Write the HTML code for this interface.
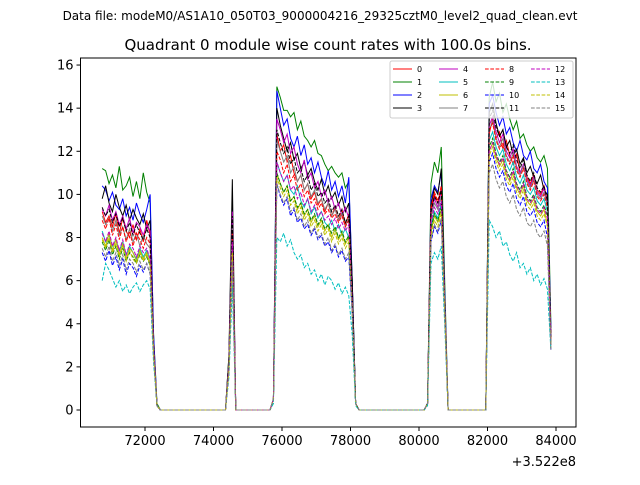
<!DOCTYPE html>
<html><head><meta charset="utf-8"><style>
body{margin:0;background:#fff;}
svg text{font-family:"DejaVu Sans","Liberation Sans",sans-serif;}
</style></head><body>
<svg id="chart" width="640" height="480" viewBox="0 0 640 480" xmlns="http://www.w3.org/2000/svg">
<rect width="640" height="480" fill="#fff"/>
<text x="320" y="20" font-size="12" text-anchor="middle">Data file: modeM0/AS1A10_050T03_9000004216_29325cztM0_level2_quad_clean.evt</text>
<text x="328" y="50" font-size="15" text-anchor="middle">Quadrant 0 module wise count rates with 100.0s bins.</text>
<g id="plot"></g>
<g id="axes"></g>
<g id="legend"></g>
</svg>
<script>
const startTime = 70750, binSize = 100;
const xTicks = [72000, 74000, 76000, 78000, 80000, 82000, 84000];
const yTicks = [0, 2, 4, 6, 8, 10, 12, 14, 16];
const offsetLabel = "+3.522e8";
const names = ["0","1","2","3","4","5","6","7","8","9","10","11","12","13","14","15"];
const colors = ["#ff0000","#008000","#0000ff","#000000","#bf00bf","#00bfbf","#bfbf00","#808080","#ff0000","#008000","#0000ff","#000000","#bf00bf","#00bfbf","#bfbf00","#808080"];
const s0=[9.2,8.7,9.0,8.5,9.1,8.2,8.9,8.3,8.0,8.6,7.9,8.4,7.8,8.8,8.1,3,0.2,0,0,0,0,0,0,0,0,0,0,0,0,0,0,0,0,0,0,0,0,2,8.5,0,0,0,0,0,0,0,0,0,0,0,0.5,12.8,12.0,12.3,11.5,11.8,11.0,10.6,10.9,10.2,10.5,9.8,10.1,9.5,9.8,9.2,9.6,9.0,9.4,8.8,9.3,8.6,9.1,5.5,0.3,0,0,0,0,0,0,0,0,0,0,0,0,0,0,0,0,0,0,0,0,0.3,9.3,10.0,9.6,10.3,5,0,0,0,0,0,0,0,0,0,0,0,0,12.8,13.5,12.6,12.9,12.1,12.5,11.8,11.4,11.9,11.0,11.3,10.8,10.5,10.9,10.2,10.0,10.4,9.7,3.5];
const s1=[11.2,11.1,10.5,10.9,10.3,11.3,10.2,10.4,10.8,9.9,10.6,9.8,11.0,10.1,9.6,3.5,0.3,0,0,0,0,0,0,0,0,0,0,0,0,0,0,0,0,0,0,0,0,2.5,8.8,0,0,0,0,0,0,0,0,0,0,0,0.5,15.0,14.5,13.9,13.9,13.6,13.8,13.0,13.4,12.7,12.5,12.2,12.5,11.9,11.8,11.4,11.1,11.3,11.0,10.8,11.0,10.3,10.6,6,0.3,0,0,0,0,0,0,0,0,0,0,0,0,0,0,0,0,0,0,0,0,0.3,10.5,11.5,11.0,12.2,6,0,0,0,0,0,0,0,0,0,0,0,0,14.5,15.2,14.3,14.7,13.8,14.2,13.5,13.0,13.4,12.6,12.8,12.3,12.0,12.2,11.7,11.5,11.8,11.2,4];
const s2=[10.4,10.2,9.7,10.1,9.5,9.3,9.8,9.0,9.4,8.8,9.6,9.1,8.7,9.3,10.0,3.5,0.2,0,0,0,0,0,0,0,0,0,0,0,0,0,0,0,0,0,0,0,0,2.3,9.5,0,0,0,0,0,0,0,0,0,0,0,0.5,14.8,14.0,13.2,13.5,12.6,12.2,12.7,11.8,12.3,11.4,11.7,11.0,11.5,10.8,10.4,11.1,10.2,10.6,9.9,10.4,9.6,10.8,6,0.3,0,0,0,0,0,0,0,0,0,0,0,0,0,0,0,0,0,0,0,0,0.3,9.8,10.4,10.1,11.0,5.5,0,0,0,0,0,0,0,0,0,0,0,0,14.2,14.6,13.8,13.2,13.6,12.8,13.1,12.4,12.0,12.5,11.8,11.6,12.0,11.2,11.0,11.4,10.6,10.3,3.8];
const s3=[9.8,10.4,9.6,9.2,10.0,9.4,9.0,9.5,8.8,9.3,8.9,8.6,9.1,8.4,8.8,3,0.2,0,0,0,0,0,0,0,0,0,0,0,0,0,0,0,0,0,0,0,0,2.5,10.7,0,0,0,0,0,0,0,0,0,0,0,0.5,14.0,13.2,12.6,12.0,12.4,11.6,11.9,11.2,11.5,10.9,11.2,10.6,10.2,10.7,10.0,10.4,9.8,10.1,9.5,9.9,9.2,9.6,6,0.3,0,0,0,0,0,0,0,0,0,0,0,0,0,0,0,0,0,0,0,0,0.3,9.5,10.3,10.0,11.2,5,0,0,0,0,0,0,0,0,0,0,0,0,13.8,14.2,13.3,12.7,13.0,12.2,12.5,11.8,12.1,11.4,11.7,11.0,11.3,10.8,10.5,10.9,10.2,10.0,3.5];
const s4=[9.3,9.0,9.5,8.8,9.2,8.6,9.0,8.4,8.9,8.2,8.7,8.5,8.1,8.6,8.3,3,0.2,0,0,0,0,0,0,0,0,0,0,0,0,0,0,0,0,0,0,0,0,2.2,9.2,0,0,0,0,0,0,0,0,0,0,0,0.5,13.5,13.0,12.4,12.8,11.9,12.2,11.4,11.0,11.6,10.7,11.0,10.3,10.6,9.9,10.2,9.6,9.9,9.3,9.6,9.0,9.4,8.9,5,0.3,0,0,0,0,0,0,0,0,0,0,0,0,0,0,0,0,0,0,0,0,0.3,9.0,9.8,9.4,10.2,5,0,0,0,0,0,0,0,0,0,0,0,0,13.2,13.6,12.9,12.4,12.8,12.0,11.7,12.1,11.3,11.0,11.4,10.7,10.4,10.8,10.1,9.9,10.3,9.6,3.3];
const s5=[8.3,7.8,8.1,7.6,7.9,7.4,7.8,7.2,7.6,7.3,7.0,7.5,7.1,7.4,7.0,2.8,0.2,0,0,0,0,0,0,0,0,0,0,0,0,0,0,0,0,0,0,0,0,2,8,0,0,0,0,0,0,0,0,0,0,0,0.5,11.5,11.0,10.6,10.9,10.2,10.0,10.4,9.7,9.4,9.8,9.1,9.4,8.9,9.2,8.7,8.5,8.8,8.3,8.6,8.1,8.4,8.0,5,0.3,0,0,0,0,0,0,0,0,0,0,0,0,0,0,0,0,0,0,0,0,0.3,8.5,9.2,8.9,9.6,5,0,0,0,0,0,0,0,0,0,0,0,0,12.5,12.9,12.2,11.8,12.1,11.4,11.1,11.5,10.8,10.5,10.9,10.2,10.0,10.3,9.7,9.5,9.8,9.2,3];
const s6=[8.0,7.6,8.2,7.4,7.9,7.2,7.7,7.0,7.5,7.3,6.9,7.4,7.0,7.3,6.8,2.7,0.2,0,0,0,0,0,0,0,0,0,0,0,0,0,0,0,0,0,0,0,0,2,7.5,0,0,0,0,0,0,0,0,0,0,0,0.5,11.0,10.5,10.1,10.4,9.7,9.9,9.3,9.6,9.0,9.3,8.7,9.0,8.5,8.8,8.3,8.6,8.0,8.4,7.9,8.2,7.7,8.0,4.8,0.3,0,0,0,0,0,0,0,0,0,0,0,0,0,0,0,0,0,0,0,0,0.3,8.3,9.0,8.7,9.3,4.8,0,0,0,0,0,0,0,0,0,0,0,0,12.0,12.4,11.7,11.3,11.6,10.9,10.6,11.0,10.3,10.0,10.4,9.7,9.5,9.8,9.2,9.0,9.3,8.6,3];
const s7=[9.0,8.6,8.9,8.3,8.8,8.1,8.5,7.9,8.4,7.8,8.2,7.6,8.1,7.7,7.5,3,0.2,0,0,0,0,0,0,0,0,0,0,0,0,0,0,0,0,0,0,0,0,2.2,8.6,0,0,0,0,0,0,0,0,0,0,0,0.5,12.5,12.0,11.5,11.8,11.0,11.3,10.6,10.9,10.2,10.5,9.9,10.2,9.6,9.8,9.3,9.6,9.0,9.3,8.8,9.1,8.5,8.9,5,0.3,0,0,0,0,0,0,0,0,0,0,0,0,0,0,0,0,0,0,0,0,0.3,8.9,9.6,9.3,9.9,5,0,0,0,0,0,0,0,0,0,0,0,0,13.0,13.4,12.6,12.2,12.6,11.8,11.5,11.9,11.2,10.9,11.3,10.6,10.3,10.7,10.0,9.8,10.1,9.5,3.3];
const s8=[8.8,8.4,8.9,8.1,8.6,7.9,8.5,7.8,8.3,7.6,8.2,7.9,7.5,8.0,7.7,3,0.2,0,0,0,0,0,0,0,0,0,0,0,0,0,0,0,0,0,0,0,0,2,8.2,0,0,0,0,0,0,0,0,0,0,0,0.5,12.0,11.6,11.0,11.4,10.6,10.9,10.2,10.5,9.9,10.2,9.6,9.8,9.3,9.6,9.1,9.3,8.9,9.1,8.7,9.0,8.5,8.8,5,0.3,0,0,0,0,0,0,0,0,0,0,0,0,0,0,0,0,0,0,0,0,0.3,9.4,10.1,9.7,10.4,5,0,0,0,0,0,0,0,0,0,0,0,0,13.0,13.3,12.5,12.1,12.4,11.7,11.4,11.8,11.1,10.8,11.2,10.5,10.2,10.6,9.9,9.7,10.0,9.4,3.3];
const s9=[7.8,7.4,7.9,7.2,7.6,7.0,7.5,6.9,7.3,7.1,6.8,7.2,6.9,7.1,6.7,2.6,0.2,0,0,0,0,0,0,0,0,0,0,0,0,0,0,0,0,0,0,0,0,1.8,7.5,0,0,0,0,0,0,0,0,0,0,0,0.5,11.0,10.5,10.1,10.4,9.7,9.9,9.4,9.6,9.1,9.3,8.8,9.1,8.6,8.9,8.4,8.6,8.2,8.5,8.0,8.3,7.8,8.1,4.8,0.3,0,0,0,0,0,0,0,0,0,0,0,0,0,0,0,0,0,0,0,0,0.3,8.4,9.1,8.8,9.4,4.8,0,0,0,0,0,0,0,0,0,0,0,0,12.2,12.6,11.9,11.5,11.8,11.1,10.8,11.2,10.5,10.2,10.6,9.9,9.7,10.0,9.4,9.2,9.5,9.0,3];
const s10=[7.3,6.9,7.4,6.7,7.1,6.5,7.0,6.3,6.8,6.6,6.2,6.7,6.4,6.8,6.3,2.5,0.2,0,0,0,0,0,0,0,0,0,0,0,0,0,0,0,0,0,0,0,0,1.8,7,0,0,0,0,0,0,0,0,0,0,0,0.5,10.5,9.9,9.5,9.8,9.0,9.3,8.7,8.9,8.4,8.6,8.1,8.4,7.9,8.1,7.6,7.8,7.3,7.6,7.1,7.4,6.9,7.1,4.5,0.3,0,0,0,0,0,0,0,0,0,0,0,0,0,0,0,0,0,0,0,0,0.3,7.8,8.5,8.2,8.8,4.5,0,0,0,0,0,0,0,0,0,0,0,0,11.5,11.9,11.2,10.8,11.1,10.4,10.1,10.5,9.8,9.5,9.9,9.2,9.0,9.3,8.7,8.5,8.8,8.0,2.8];
const s11=[9.4,9.0,9.3,8.7,9.1,8.5,8.9,8.3,8.7,8.1,8.6,8.2,7.9,8.4,8.0,3,0.2,0,0,0,0,0,0,0,0,0,0,0,0,0,0,0,0,0,0,0,0,2.2,9,0,0,0,0,0,0,0,0,0,0,0,0.5,13.0,12.4,11.9,12.2,11.4,11.7,11.0,11.2,10.6,10.9,10.2,10.5,9.9,10.1,9.6,9.8,9.2,9.5,9.0,9.3,8.7,9.0,5.5,0.3,0,0,0,0,0,0,0,0,0,0,0,0,0,0,0,0,0,0,0,0,0.3,9.2,9.9,9.6,10.2,5,0,0,0,0,0,0,0,0,0,0,0,0,13.5,13.9,13.1,12.7,13.0,12.2,11.9,12.3,11.6,11.2,11.6,10.9,10.6,11.0,10.3,10.1,10.4,9.7,3.4];
const s12=[8.2,7.8,8.3,7.6,8.0,7.4,7.9,7.2,7.7,7.5,7.1,7.6,7.3,7.5,7.0,2.8,0.2,0,0,0,0,0,0,0,0,0,0,0,0,0,0,0,0,0,0,0,0,2,7.8,0,0,0,0,0,0,0,0,0,0,0,0.5,11.5,11.0,10.6,10.9,10.2,10.4,9.8,10.1,9.5,9.8,9.2,9.5,9.0,9.2,8.8,9.0,8.6,8.9,8.4,8.7,8.3,8.6,5,0.3,0,0,0,0,0,0,0,0,0,0,0,0,0,0,0,0,0,0,0,0,0.3,8.7,9.4,9.1,9.7,5,0,0,0,0,0,0,0,0,0,0,0,0,12.0,12.4,11.8,11.4,11.7,11.0,10.7,11.1,10.4,10.1,10.5,9.8,9.6,9.9,9.3,9.1,9.4,8.9,3];
const s13=[6.0,6.8,6.5,6.1,5.7,6.0,5.5,5.8,5.4,5.7,5.9,5.5,5.8,6.0,5.6,2.2,0.2,0,0,0,0,0,0,0,0,0,0,0,0,0,0,0,0,0,0,0,0,1.5,5.8,0,0,0,0,0,0,0,0,0,0,0,0.3,8.0,7.8,8.2,7.6,7.9,7.3,7.0,7.2,6.6,6.8,6.3,6.5,6.0,6.3,5.8,6.2,6.0,5.6,5.9,5.4,5.7,5.3,3.5,0.2,0,0,0,0,0,0,0,0,0,0,0,0,0,0,0,0,0,0,0,0,0.2,6.8,7.3,7.0,7.6,4,0,0,0,0,0,0,0,0,0,0,0,0,8.8,8.5,8.0,8.3,7.6,7.8,7.2,6.9,7.3,6.6,6.8,6.3,6.6,6.0,6.3,5.8,6.1,5.6,2.8];
const s14=[7.9,7.5,8.0,7.3,7.7,7.1,7.6,6.9,7.4,7.0,6.8,7.3,6.9,7.2,6.7,2.6,0.2,0,0,0,0,0,0,0,0,0,0,0,0,0,0,0,0,0,0,0,0,1.8,7.3,0,0,0,0,0,0,0,0,0,0,0,0.5,10.8,10.3,9.9,10.2,9.5,9.7,9.1,9.4,8.8,9.1,8.5,8.8,8.3,8.6,8.1,8.4,7.8,8.2,7.7,8.0,7.5,7.8,4.6,0.3,0,0,0,0,0,0,0,0,0,0,0,0,0,0,0,0,0,0,0,0,0.3,8.1,8.8,8.5,9.1,4.6,0,0,0,0,0,0,0,0,0,0,0,0,11.8,12.2,11.5,11.1,11.4,10.7,10.4,10.8,10.1,9.8,10.2,9.5,9.3,9.6,9.0,8.8,9.1,8.5,2.9];
const s15=[7.5,7.1,7.6,6.9,7.3,6.7,7.2,6.5,7.0,6.8,6.4,6.9,6.5,6.8,6.3,2.5,0.2,0,0,0,0,0,0,0,0,0,0,0,0,0,0,0,0,0,0,0,0,1.7,6.9,0,0,0,0,0,0,0,0,0,0,0,0.5,10.5,10.0,9.6,9.9,9.2,9.4,8.8,9.1,8.5,8.8,8.2,8.5,8.0,8.2,7.7,8.0,7.4,7.7,7.2,7.5,7.0,7.3,4.5,0.3,0,0,0,0,0,0,0,0,0,0,0,0,0,0,0,0,0,0,0,0,0.3,7.9,8.6,8.3,8.9,4.5,0,0,0,0,0,0,0,0,0,0,0,0,11.0,11.4,10.7,10.3,10.6,9.9,9.6,10.0,9.3,9.0,9.4,8.7,8.5,8.8,8.2,8.0,8.3,7.6,2.8];
const series=[s0,s1,s2,s3,s4,s5,s6,s7,s8,s9,s10,s11,s12,s13,s14,s15];

const NS="http://www.w3.org/2000/svg";
const L=80.5,R=576,T=58,B=427;
function xs(t){return 145+(t-72000)/2000*68.5;}
function ys(v){return 410-v*21.56;}
function mk(tag,attrs,parent){const e=document.createElementNS(NS,tag);for(const k in attrs)e.setAttribute(k,attrs[k]);parent.appendChild(e);return e;}
const plot=document.getElementById('plot'),axes=document.getElementById('axes'),leg=document.getElementById('legend');
series.forEach((s,si)=>{
  const pts=s.map((v,i)=>xs(startTime+i*binSize).toFixed(2)+','+ys(v).toFixed(2)).join(' ');
  const pl=mk('polyline',{points:pts,fill:'none',stroke:colors[si],'stroke-width':1,'stroke-dasharray':si>=8?'3.7,1.6':'none'},plot);
  
  
});
const frame=mk('rect',{x:L,y:T,width:R-L,height:B-T,fill:'none',stroke:'#000','stroke-width':1},axes);


xTicks.forEach(t=>{
  const x=xs(t);
  mk('line',{x1:x,x2:x,y1:B,y2:B+4,stroke:'#000'},axes);
  const tx=mk('text',{x:x,y:B+18,'font-size':13,'text-anchor':'middle'},axes);
  tx.textContent=t;
  
  
});
yTicks.forEach(v=>{
  const y=ys(v);
  mk('line',{x1:L-4,x2:L,y1:y,y2:y,stroke:'#000'},axes);
  const tx=mk('text',{x:L-7,y:y+4.5,'font-size':13,'text-anchor':'end'},axes);
  tx.textContent=v;
  
  
});
const off=mk('text',{x:R,y:466,'font-size':13,'text-anchor':'end'},axes);
off.textContent=offsetLabel;


const lb=mk('rect',{x:390,y:61,width:183,height:57,fill:'#fff','fill-opacity':0.8,stroke:'#ccc',rx:2},leg);


const colX=[393,439,485,531],rowY=[69,82,95,108];
names.forEach((n,i)=>{
  const c=Math.floor(i/4),r=i%4,x=colX[c],y=rowY[r];
  const g=mk('g',{},leg);
  
  
  mk('line',{x1:x,x2:x+19,y1:y,y2:y,stroke:colors[i],'stroke-width':1,'stroke-dasharray':i>=8?'3.7,1.6':'none'},g);
  const t=mk('text',{x:x+24,y:y+3,'font-size':8},g);
  t.textContent=n;
});
</script>
</body></html>
